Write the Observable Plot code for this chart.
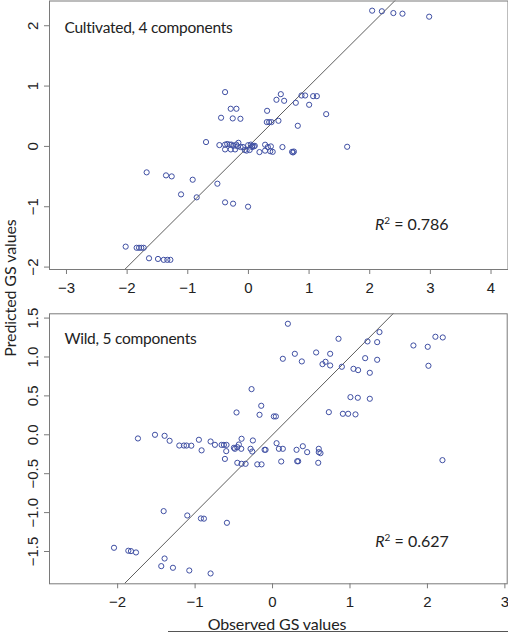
<!DOCTYPE html>
<html><head><meta charset="utf-8">
<script src="https://cdn.jsdelivr.net/npm/d3@7"></script>
<script src="https://cdn.jsdelivr.net/npm/@observablehq/plot@0.6"></script>
<style>
body{margin:0;background:#fff;}
#wrap{position:relative;width:508px;height:632px;overflow:hidden;background:#fff;}
#wrap svg{position:absolute;left:0;}
.lab{position:absolute;font-family:Lato,"Open Sans",sans-serif;font-size:16px;letter-spacing:-0.1px;color:#222;white-space:nowrap;text-align:center;line-height:20px;}
</style></head><body><div id="wrap"></div>
<script>
// ---- Cultivated, 4 components ----
const cultObs = [2.04,2.20,2.39,2.54,2.98,-0.385,0.534,0.875,0.935,1.067,1.128,0.462,0.589,0.781,1.001,-0.292,-0.198,0.308,1.282,-0.451,-0.259,-0.132,0.303,0.342,0.380,0.495,0.814,-0.699,-0.479,1.628,0.561,0.72,0.735,0.75,0.182,0.275,0.32,0.37,0.275,0.36,0.40,-0.385,-0.35,-0.31,-0.28,-0.25,-0.20,-0.165,-0.13,-0.385,-0.29,-0.22,-0.09,-0.06,-0.03,-0.005,0.02,0.04,0.065,0.09,0.105,0.06,-0.18,-1.678,-1.359,-1.265,-0.919,-0.512,-1.111,-0.853,-0.385,-0.253,-0.006,-2.024,-1.843,-1.804,-1.766,-1.727,-1.639,-1.491,-1.397,-1.337,-1.287];
const cultPred = [2.25,2.24,2.21,2.20,2.15,0.90,0.866,0.844,0.844,0.833,0.833,0.773,0.756,0.723,0.69,0.624,0.624,0.59,0.535,0.475,0.464,0.458,0.403,0.403,0.403,0.425,0.342,0.072,0.022,-0.006,-0.011,-0.09,-0.10,-0.085,-0.094,0.028,-0.01,0.0,-0.07,-0.08,-0.09,0.03,0.04,0.03,0.03,0.01,0.03,0.06,-0.01,-0.05,-0.05,-0.05,-0.01,-0.06,-0.07,0.02,-0.06,0.03,0.01,0.0,0.01,-0.01,0.0,-0.43,-0.48,-0.497,-0.552,-0.618,-0.795,-0.844,-0.927,-0.949,-0.999,-1.661,-1.68,-1.68,-1.68,-1.68,-1.854,-1.865,-1.88,-1.88,-1.88];
const cultXTicks = [-3,-2,-1,0,1,2,3,4];
const cultYTicks = [-2,-1,0,1,2];
const cultLabel = "Cultivated, 4 components";
const cultR2 = "0.786";

// ---- Wild, 5 components ----
const wildObs = [0.198,0.852,1.381,1.226,1.351,2.103,2.198,1.819,2.004,2.013,0.563,0.288,0.744,0.133,0.378,0.684,0.645,0.744,0.895,1.196,1.351,1.045,1.105,1.256,
 -0.271,-0.146,-0.465,-0.168,0.017,0.043,0.727,0.908,0.976,1.071,1.006,1.101,1.256,
 -1.738,-1.518,-1.394,-1.329,-1.204,-1.144,-1.110,-1.049,-0.951,-0.916,-0.80,-0.744,-0.658,-0.628,-0.594,-0.598,-0.615,-0.499,-0.486,-0.455,-0.435,-0.404,-0.40,-0.455,-0.40,-0.348,-0.284,-0.254,-0.262,-0.197,-0.142,-0.103,-0.09,0.052,0.082,0.133,0.112,0.31,0.318,0.331,0.391,0.447,0.597,0.597,0.619,0.59,2.194,
 -1.406,-1.101,-0.925,-0.886,-0.589,-2.047,-1.862,-1.828,-1.763,-1.394,-1.437,-1.286,-1.075,-0.80];
const wildPred = [1.427,1.234,1.32,1.2,1.191,1.26,1.251,1.148,1.131,0.887,1.058,1.041,1.041,0.977,0.943,0.938,0.908,0.891,0.874,0.985,0.964,0.848,0.831,0.797,
 0.587,0.373,0.287,0.257,0.236,0.236,0.291,0.27,0.27,0.262,0.484,0.476,0.463,
 -0.047,0.0,-0.013,-0.077,-0.138,-0.138,-0.138,-0.14,-0.064,-0.2,-0.086,-0.129,-0.13,-0.13,-0.13,-0.21,-0.31,-0.167,-0.18,-0.159,-0.125,-0.18,-0.051,-0.36,-0.373,-0.373,-0.18,-0.073,-0.215,-0.38,-0.38,-0.193,-0.193,-0.108,-0.18,-0.18,-0.343,-0.193,-0.34,-0.34,-0.147,-0.223,-0.18,-0.223,-0.236,-0.36,-0.326,
 -0.981,-1.037,-1.075,-1.078,-1.131,-1.452,-1.49,-1.495,-1.512,-1.59,-1.688,-1.709,-1.744,-1.782];
const wildXTicks = [-2,-1,0,1,2,3];
const wildYTicks = [-1.5,-1.0,-0.5,0.0,0.5,1.0,1.5];
const wildLabel = "Wild, 5 components";
const wildR2 = "0.627";

const xTitle = "Observed GS values";
const yTitle = "Predicted GS values";

const wrap = d3.select("#wrap");

function panel(o) {
  const pts = o.obs.map((x, i) => ({x, y: o.pred[i]}));
  const diag = o.xDomain.map(v => ({x: v, y: v}));
  const p = Plot.plot({
    width: 508, height: o.height,
    marginLeft: 49, marginRight: o.mr, marginTop: o.mt, marginBottom: o.mb,
    style: {fontFamily: "'Liberation Sans', Arial, sans-serif", fontSize: "15px", color: "#222", background: "transparent", overflow: "visible"},
    x: {domain: o.xDomain},
    y: {domain: o.yDomain},
    marks: [
      Plot.line(diag, {x: "x", y: "y", stroke: "#333", strokeWidth: 0.8, clip: true}),
      Plot.dot(pts, {x: "x", y: "y", r: 2.6, stroke: "#3f4fa3", strokeWidth: 1, fill: "none"}),
      Plot.frame({stroke: "#7a7a7a"}),
      Plot.axisX({ticks: o.xTicks, tickFormat: d3.format("d"), tickSize: 5, tickPadding: 8, stroke: "#7a7a7a", fill: "#222", label: null}),
      Plot.axisY({ticks: o.yTicks, tickSize: 5, tickFormat: () => "", stroke: "#7a7a7a", label: null}),
      Plot.text(o.yTicks, {y: d => d, text: o.yFmt, frameAnchor: "left", dx: -16.5, rotate: -90, textAnchor: "middle", lineAnchor: "middle", fill: "#222", fontSize: 15}),
      Plot.text([o.label], {text: d => d, frameAnchor: "top-left", dx: 15, dy: o.labelDy, textAnchor: "start", lineAnchor: "middle", fontFamily: "Lato", fontSize: 15.5, fill: "#222"}),
      Plot.text([o.r2], {text: d => "R2 = " + d, frameAnchor: "top-right", dx: o.r2Dx, dy: o.r2Dy, textAnchor: "end", lineAnchor: "middle", fontFamily: "Lato", fontSize: 16, fill: "#222"})
    ]
  });
  d3.select(p).selectAll("text").filter(function() { return this.textContent === o.label; })
    .style("letter-spacing", "-0.25px");
  d3.select(p).selectAll("text").filter(function() { return this.textContent.startsWith("R2 = "); }).each(function() {
    const t = d3.select(this);
    const v = this.textContent.slice(5);
    t.text(null);
    t.append("tspan").attr("font-style", "italic").text("R");
    t.append("tspan").attr("dy", "-6").attr("font-size", "10").text("2");
    t.append("tspan").attr("dy", "6").text(" = " + v);
  });
  p.style.top = o.top + "px";
  wrap.node().appendChild(p);
}

panel({obs: cultObs, pred: cultPred, xDomain: [-3.28, 4.28], yDomain: [-2.04, 2.41],
  xTicks: cultXTicks, yTicks: cultYTicks, yFmt: d => d3.format("d")(d),
  height: 300, top: 0, mt: 0.5, mb: 31, mr: 0.5,
  label: cultLabel, labelDy: 27.5, r2: cultR2, r2Dx: -59.5, r2Dy: 223.5});

panel({obs: wildObs, pred: wildPred, xDomain: [-2.88, 3.03], yDomain: [-1.915, 1.555],
  xTicks: wildXTicks, yTicks: wildYTicks, yFmt: d => d3.format(".1f")(d),
  height: 332, top: 300, mt: 13.3, mb: 48.7, mr: 1.3,
  label: wildLabel, labelDy: 25, r2: wildR2, r2Dx: -58.4, r2Dy: 228.4});

wrap.append("div").attr("class", "lab").style("left", (9.5 - 150) + "px").style("top", (288 - 10) + "px")
  .style("width", "300px").style("transform", "rotate(-90deg)").text(yTitle);
wrap.append("div").attr("class", "lab").style("left", (277 - 150) + "px").style("top", "614px")
  .style("width", "300px").text(xTitle);
wrap.append("div").style("position", "absolute").style("left", "168px").style("top", "631px")
  .style("width", "340px").style("height", "1px").style("background", "#555");
</script></body></html>
